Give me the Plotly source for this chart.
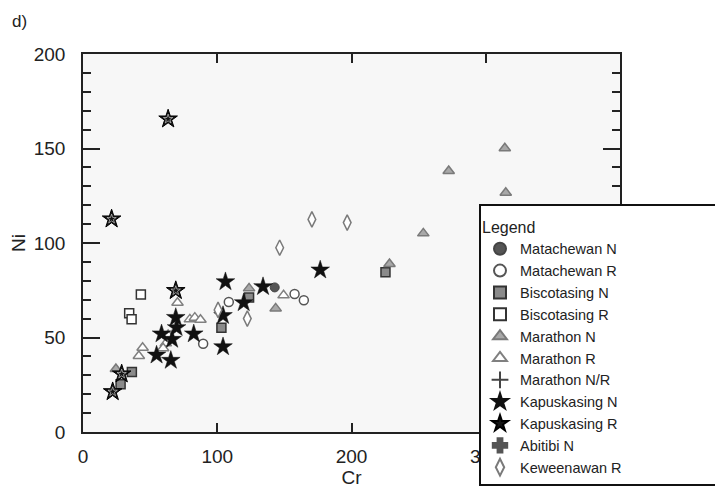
import plotly.graph_objects as go

# ---- data (Cr, Ni) ----
matachewan_n_cr = [142.8]
matachewan_n_ni = [76.5]
matachewan_r_cr = [157.6, 164.5, 108.6, 89.5]
matachewan_r_ni = [73.0, 69.7, 68.8, 46.7]
biscotasing_n_cr = [123.7, 103.1, 225.3, 36.4, 28.0]
biscotasing_n_ni = [71.1, 55.2, 84.5, 31.7, 25.2]
biscotasing_r_cr = [43.1, 34.4, 36.2]
biscotasing_r_ni = [72.7, 62.8, 59.6]
marathon_n_cr = [123.7, 143.5, 228.3, 253.5, 272.4, 314.2, 314.9, 24.5]
marathon_n_ni = [76.0, 65.4, 88.9, 105.1, 138.1, 150.1, 126.6, 33.3]
marathon_r_cr = [70.4, 79.6, 83.3, 87.5, 63.4, 61.7, 59.7, 44.4, 41.6, 149.4]
marathon_r_ni = [68.4, 59.6, 60.5, 59.4, 51.3, 46.9, 44.3, 44.6, 40.2, 72.3]
marathon_nr_cr = []
marathon_nr_ni = []
kapuskasing_n_cr = [106.1, 134.1, 119.7, 104.3, 69.1, 69.7, 58.5, 66.4, 82.5, 104.3, 54.8, 65.4, 176.7]
kapuskasing_n_ni = [79.5, 76.9, 68.4, 61.6, 60.6, 55.2, 51.9, 49.0, 51.9, 45.1, 40.7, 37.9, 85.7]
kapuskasing_r_cr = [21.3, 63.4, 69.1, 22.1, 28.8]
kapuskasing_r_ni = [112.7, 165.6, 74.8, 21.3, 30.7]
abitibi_n_cr = []
abitibi_n_ni = []
keweenawan_r_cr = [146.5, 170.5, 196.8, 100.6, 122.4]
keweenawan_r_ni = [97.5, 112.5, 110.8, 64.6, 60.0]

x_ticks = [0, 100, 200, 300]
y_ticks = [0, 50, 100, 150, 200]

FONT = "Liberation Sans, Arial, sans-serif"
INK = "#222222"

series = [
    ("Matachewan N", matachewan_n_cr, matachewan_n_ni, dict(symbol="circle", size=9, color="#555555", line=dict(color="#444444", width=1))),
    ("Matachewan R", matachewan_r_cr, matachewan_r_ni, dict(symbol="circle", size=9, color="white", line=dict(color="#555555", width=1.5))),
    ("Biscotasing N", biscotasing_n_cr, biscotasing_n_ni, dict(symbol="square", size=9, color="#8a8a8a", line=dict(color="#333333", width=1.5))),
    ("Biscotasing R", biscotasing_r_cr, biscotasing_r_ni, dict(symbol="square", size=9, color="white", line=dict(color="#333333", width=1.5))),
    ("Marathon N", marathon_n_cr, marathon_n_ni, dict(symbol="triangle-up", size=10, color="#a8a8a8", line=dict(color="#7a7a7a", width=1.5))),
    ("Marathon R", marathon_r_cr, marathon_r_ni, dict(symbol="triangle-up", size=10, color="white", line=dict(color="#808080", width=1.5))),
    ("Marathon N/R", marathon_nr_cr, marathon_nr_ni, dict(symbol="cross-thin-open", size=9, color="#444444", line=dict(color="#444444", width=1.3))),
    ("Kapuskasing N", kapuskasing_n_cr, kapuskasing_n_ni, dict(symbol="star", size=14, color="#111111", line=dict(color="#111111", width=0.5))),
    ("Kapuskasing R", kapuskasing_r_cr, kapuskasing_r_ni, dict(symbol="star", size=14, color="#151515", line=dict(color="#000000", width=1))),
    ("Abitibi N", abitibi_n_cr, abitibi_n_ni, dict(symbol="cross", size=11, color="#555555", line=dict(color="#555555", width=0.5))),
    ("Keweenawan R", keweenawan_r_cr, keweenawan_r_ni, dict(symbol="diamond-tall", size=11, color="white", line=dict(color="#7a7a7a", width=1.5))),
]

fig = go.Figure()
for name, xs, ys, mk in series:
    fig.add_trace(go.Scatter(x=xs if xs else [None], y=ys if ys else [None],
                             mode="markers", name=name, marker=mk, showlegend=True))
    if name == "Kapuskasing R":
        fig.add_trace(go.Scatter(x=xs, y=ys, mode="markers", showlegend=False, hoverinfo="skip",
                                 marker=dict(symbol="star-open", size=7, color="#dddddd",
                                             line=dict(color="#dddddd", width=0.6))))

axis_common = dict(
    showgrid=False, zeroline=False, showline=True, linecolor=INK, linewidth=1.5,
    mirror="ticks", ticks="inside", tickcolor=INK, tickwidth=1.5, automargin=False,
    tickfont=dict(family=FONT, size=19, color=INK),
)

fig.update_xaxes(range=[0, 400], tickvals=x_ticks, ticklen=9, ticklabelstandoff=6,
                 title=dict(text="Cr", font=dict(family=FONT, size=19, color=INK), standoff=3),
                 **axis_common)
fig.update_yaxes(range=[0, 200], tickvals=y_ticks, ticklen=17, ticklabelstandoff=12,
                 minor=dict(dtick=10, ticks="inside", ticklen=8, tickcolor=INK, tickwidth=1.5),
                 title=dict(text="Ni", font=dict(family=FONT, size=19, color=INK), standoff=10),
                 **axis_common)

# legend frame (extends past the right edge like the reference)
fig.add_shape(type="rect", xref="paper", yref="paper",
              x0=(480 - 83) / 537, x1=(735 - 83) / 537,
              y0=(432 - 485) / 378, y1=(432 - 205) / 378,
              fillcolor="white", line=dict(color="#111111", width=2), layer="above")

# page body adds an 8px offset; margins compensate so the plot area sits at 83..620 x 54..432
fig.update_layout(
    width=723, height=487,
    margin=dict(l=75, r=111, t=46, b=63, autoexpand=False),
    paper_bgcolor="white", plot_bgcolor="#f7f7f7",
    font=dict(family=FONT, size=14.5, color=INK),
    legend=dict(
        title=dict(text="Legend", font=dict(family=FONT, size=16, color=INK)),
        font=dict(family=FONT, size=14.5, color=INK),
        x=(480 - 83) / 537, y=(432 - 212) / 378, xanchor="left", yanchor="top",
        xref="paper", yref="paper",
        bgcolor="rgba(0,0,0,0)", borderwidth=0,
        itemsizing="constant",
    ),
    annotations=[dict(text="d)", x=0, y=1, xref="paper", yref="paper", xanchor="left", yanchor="top",
                      showarrow=False, font=dict(family=FONT, size=17, color=INK),
                      xshift=-73, yshift=44)],
)

fig.write_html("out.html")
